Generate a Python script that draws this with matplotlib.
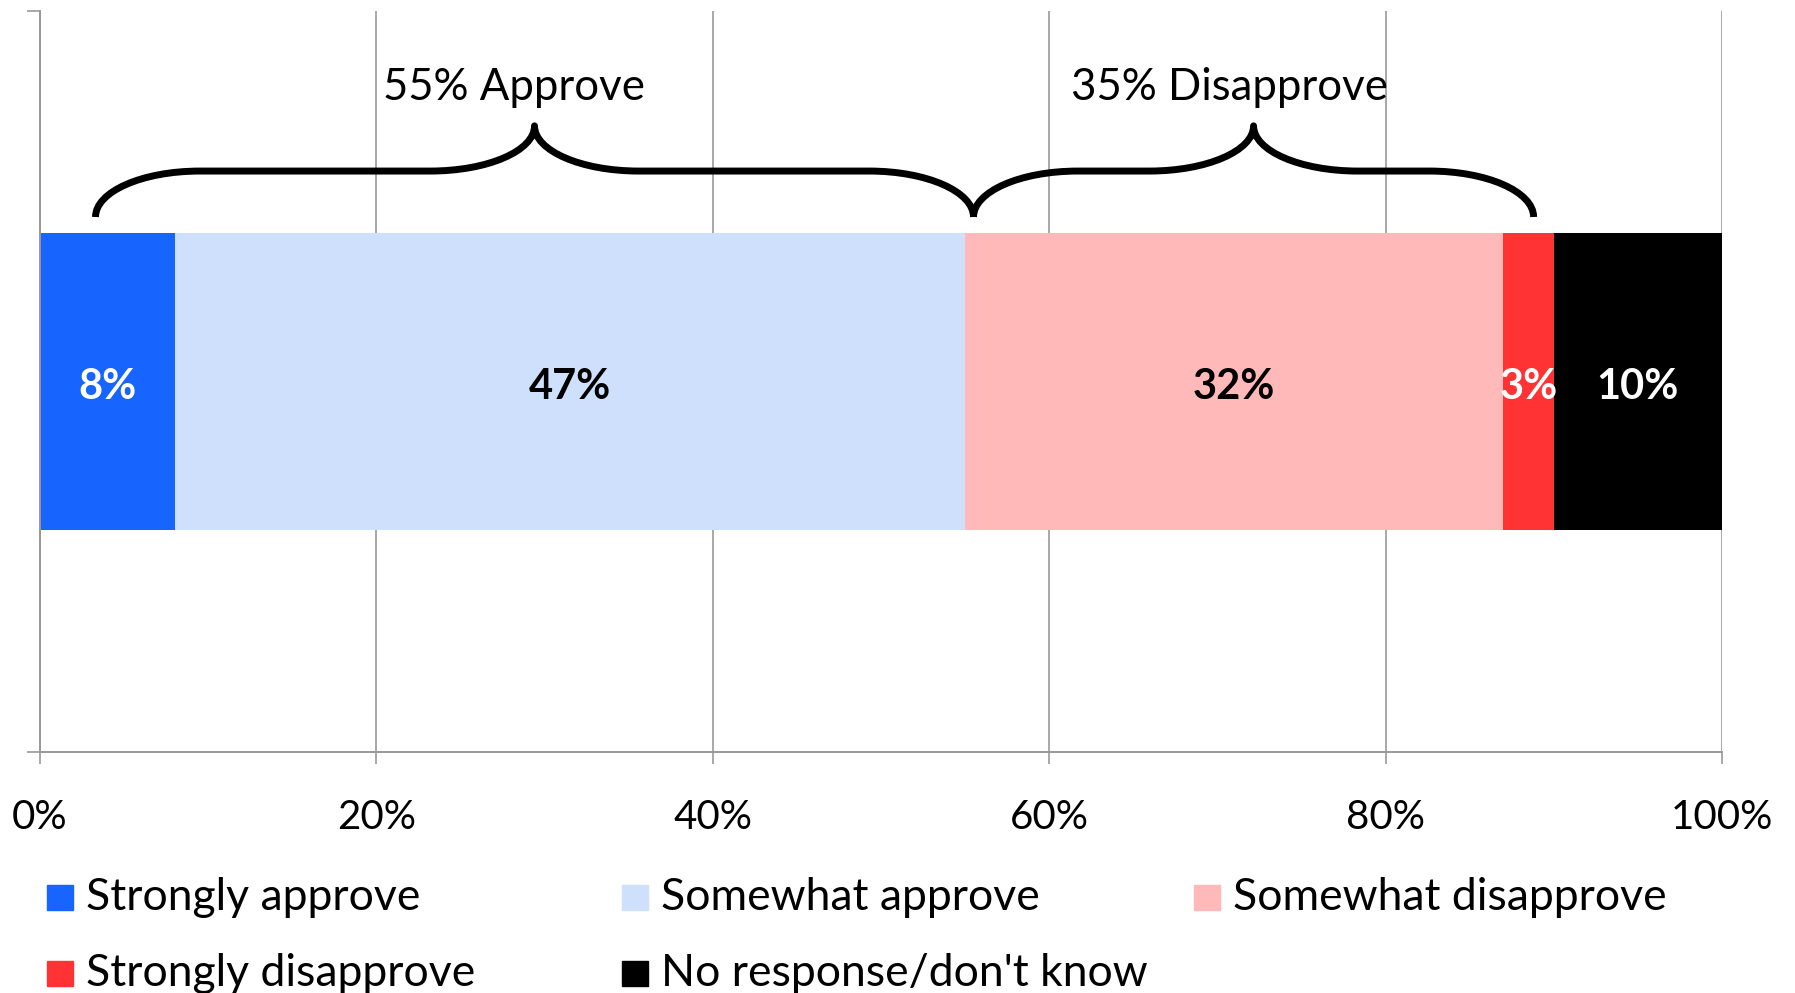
import matplotlib.pyplot as plt
from matplotlib.path import Path
from matplotlib.patches import PathPatch, Rectangle

plt.rcParams['font.family'] = ['Lato', 'DejaVu Sans']

# ---- data ----
categories = ['Strongly approve', 'Somewhat approve', 'Somewhat disapprove',
              'Strongly disapprove', "No response/don't know"]
values = [8, 47, 32, 3, 10]
colors = ['#1764FF', '#CFE0FC', '#FFB9B9', '#FF3333', '#000000']
label_colors = ['white', 'black', 'black', 'white', 'white']

brace_labels = ['55% Approve', '35% Disapprove']
brace_spans = [(3.3, 55.5), (55.5, 88.8)]
brace_text_x = [28.2, 70.7]

xticks = [0, 20, 40, 60, 80, 100]
xtick_labels = ['0%', '20%', '40%', '60%', '80%', '100%']

GRAY = '#999999'
W, H = 1795, 993

fig = plt.figure(figsize=(W / 100, H / 100), dpi=100)
ax = fig.add_axes([40 / W, 1 - 752 / H, (1722 - 40) / W, (752 - 11) / H])

# stacked bar
left = 0
for v, c, lc in zip(values, colors, label_colors):
    ax.barh(0, v, left=left, height=0.4, color=c, zorder=2)
    ax.text(left + v / 2, -0.007, f'{v}%', ha='center', va='center',
            fontsize=30, fontweight='bold', color=lc, zorder=3)
    left += v


def draw_brace(ax, x0, x1, y_end=0.222, y_flat=0.284, y_tip=0.345, w=6.2):
    k = 0.5523
    xm = (x0 + x1) / 2
    verts = [
        (x0, y_end),
        (x0, y_end + k * (y_flat - y_end)), (x0 + w * (1 - k), y_flat), (x0 + w, y_flat),
        (xm - w, y_flat),
        (xm - w * (1 - k), y_flat), (xm, y_tip - k * (y_tip - y_flat)), (xm, y_tip),
        (xm, y_tip - k * (y_tip - y_flat)), (xm + w * (1 - k), y_flat), (xm + w, y_flat),
        (x1 - w, y_flat),
        (x1 - w * (1 - k), y_flat), (x1, y_end + k * (y_flat - y_end)), (x1, y_end),
    ]
    codes = ([Path.MOVETO] + [Path.CURVE4] * 3 + [Path.LINETO] + [Path.CURVE4] * 3
             + [Path.CURVE4] * 3 + [Path.LINETO] + [Path.CURVE4] * 3)
    ax.add_patch(PathPatch(Path(verts, codes), fill=False, lw=5,
                           color='black', capstyle='butt', joinstyle='round', zorder=3))


for (x0, x1), txt, tx in zip(brace_spans, brace_labels, brace_text_x):
    draw_brace(ax, x0, x1)
    ax.text(tx, 0.397, txt, ha='center', va='center', fontsize=31.5, zorder=3)

# axes styling
ax.set_xlim(0, 100)
ax.set_ylim(-0.5, 0.5)
ax.set_xticks(xticks)
ax.set_xticklabels(xtick_labels, fontsize=29)
ax.set_yticks([-0.5, 0.5])
ax.set_yticklabels([])
ax.grid(axis='x', color=GRAY, lw=1.2)
ax.set_axisbelow(True)
for s in ['top', 'right']:
    ax.spines[s].set_visible(False)
for s in ['left', 'bottom']:
    ax.spines[s].set_color(GRAY)
    ax.spines[s].set_linewidth(1.4)
ax.tick_params(axis='x', length=8.6, width=1.2, color=GRAY, pad=25)
ax.tick_params(axis='y', length=9.4, width=1.2, color=GRAY)

# legend (3 columns, row-major)
col_x = [47, 622, 1194]
row_y = [897, 973]
for i, (lab, c) in enumerate(zip(categories, colors)):
    r, cc = divmod(i, 3)
    x, y = col_x[cc], row_y[r]
    fig.add_artist(Rectangle((x / W, 1 - (y + 12.5) / H), 26 / W, 25 / H,
                             transform=fig.transFigure, color=c))
    fig.text((x + 39) / W, 1 - y / H, lab, ha='left', va='center', fontsize=32)

fig.savefig('out.png', dpi=100)
